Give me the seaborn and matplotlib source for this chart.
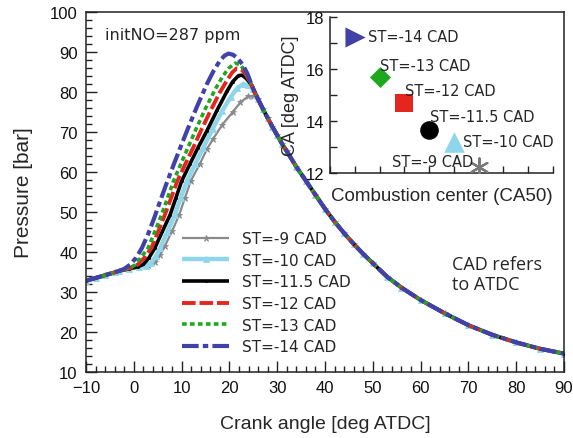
import matplotlib
matplotlib.use("Agg")
import matplotlib.pyplot as plt
import seaborn as sns
import pandas as pd
from matplotlib.ticker import MultipleLocator

# ---------------- data ----------------
series_labels = ["ST=-9 CAD", "ST=-10 CAD", "ST=-11.5 CAD", "ST=-12 CAD", "ST=-13 CAD", "ST=-14 CAD"]

# shared compression start
start_x = [-10, -8, -6, -4, -3]
start_y = [32.8, 33.5, 34.2, 34.9, 35.3]

# shared expansion tail
tail_x = [26, 27, 28, 29, 30, 31, 32, 34, 36, 38, 40, 42, 44, 46, 48, 50, 53, 56, 60, 65, 70, 75, 80, 85, 90]
tail_y = [78.2, 75.8, 73.5, 71.3, 69.2, 67.1, 65.2, 61.3, 57.8, 54.3, 50.8, 47.6, 44.7, 42.0, 39.5, 37.2,
          33.8, 31.1, 28.0, 24.7, 21.7, 19.3, 17.4, 15.8, 14.6]

gray_x = [-1, 1.0, 3.0, 4.5, 5.5, 6.5, 8.0, 9.5, 10.7, 11.9, 13.8, 15.3, 16.6, 18.5, 20.7, 22.3, 23.9, 25.0]
gray_y = [35.8, 36.3, 36.7, 37.5, 39.2, 41.5, 45.2, 49.3, 53.5, 57.7, 62.0, 65.7, 68.3, 71.8, 75.0, 77.4, 78.9, 78.9]

cyan_x = [-1, 1.0, 2.5, 3.6, 4.6, 5.5, 7.0, 8.6, 9.8, 11.1, 12.8, 14.5, 16.5, 18.5, 20.3, 21.6, 22.9, 23.9, 24.9, 25.6]
cyan_y = [35.8, 36.2, 36.6, 37.3, 38.9, 41.0, 45.0, 49.3, 53.5, 57.7, 61.9, 66.0, 70.8, 75.3, 78.8, 80.9, 82.0, 81.7, 80.8, 79.3]

black_x = [-1, 0.8, 2.0, 3.2, 4.4, 6.0, 7.6, 8.8, 10.0, 11.7, 13.4, 15.3, 17.4, 19.5, 20.7, 21.9, 22.7, 23.4, 24.1, 24.7, 25.3]
black_y = [35.8, 36.3, 36.9, 38.6, 41.0, 45.2, 49.3, 53.5, 57.7, 61.9, 66.0, 70.3, 75.4, 80.2, 82.6, 84.1, 84.2, 83.5, 82.6, 81.6, 79.9]

red_x = [-1.5, -0.2, 0.9, 2.3, 3.7, 5.1, 6.5, 7.8, 9.1, 10.7, 12.4, 14.0, 16.0, 18.0, 19.6, 20.6, 21.5, 22.5, 23.3, 24.0, 24.7, 25.3]
red_y = [35.7, 36.2, 36.9, 38.7, 41.0, 45.1, 49.3, 53.5, 57.7, 61.8, 66.0, 70.2, 75.2, 79.9, 83.1, 84.9, 85.9, 85.6, 84.6, 83.2, 81.6, 79.9]

green_x = [-1.5, -0.5, 0.3, 1.6, 3.0, 4.4, 5.8, 7.0, 8.3, 9.8, 11.3, 13.0, 15.0, 17.0, 18.5, 19.8, 21.2, 22.2, 23.2, 24.0, 24.7, 25.3]
green_y = [35.8, 36.2, 36.8, 38.8, 41.0, 45.1, 49.3, 53.3, 57.7, 61.9, 66.0, 70.7, 75.9, 80.6, 83.7, 85.9, 87.2, 86.9, 85.4, 83.5, 81.6, 79.9]

blue_x = [-2, -0.8, 0.5, 1.7, 3.0, 4.3, 5.6, 6.9, 8.3, 9.7, 11.2, 13.2, 15.3, 16.7, 18.0, 19.0, 19.8, 20.8, 21.8, 22.8, 23.8, 24.7, 25.3]
blue_y = [35.8, 36.8, 38.6, 41.0, 44.5, 48.6, 53.0, 57.3, 61.7, 66.0, 70.5, 76.3, 82.0, 85.3, 87.8, 89.1, 89.6, 89.3, 88.3, 86.8, 84.5, 81.6, 79.9]

# inset: combustion center (CA50) vs CA
inset_st = ["ST=-14 CAD", "ST=-13 CAD", "ST=-12 CAD", "ST=-11.5 CAD", "ST=-10 CAD", "ST=-9 CAD"]
inset_ca50 = [1, 2, 3, 4, 5, 6]
inset_ca = [17.23, 15.69, 14.70, 13.67, 13.18, 12.22]

# ---------------- styles / layout ----------------
sns.set_style("ticks")
plt.rcParams["font.family"] = ["Liberation Sans", "DejaVu Sans"]
plt.rcParams["xtick.direction"] = "in"
plt.rcParams["ytick.direction"] = "in"

colors = ["#8a8a8a", "#8fd6ea", "#000000", "#e5261e", "#1fa81f", "#4141a8"]
widths = [1.6, 3.2, 2.6, 2.8, 2.6, 3.0]
markers = ["*", "^", ".", None, None, None]
msizes = [4.5, 4.5, 3.0, 0, 0, 0]
dash_patterns = [None, None, None, [3.5, 1.0], [1.3, 0.9], [4.0, 1.0, 1.3, 1.0]]

fig = plt.figure(figsize=(5.73, 4.39), dpi=100)
ax = fig.add_axes([86 / 573, 1 - 373 / 439, 478 / 573, 360 / 439])

mids = [(gray_x, gray_y), (cyan_x, cyan_y), (black_x, black_y),
        (red_x, red_y), (green_x, green_y), (blue_x, blue_y)]

handles = []
for (mx, my), lab, c, w, m, ms, dp in zip(mids, series_labels, colors, widths, markers, msizes, dash_patterns):
    df = pd.DataFrame({"x": start_x + mx + tail_x, "y": start_y + my + tail_y})
    n_before = len(ax.lines)
    kw = {}
    if m is not None:
        kw = dict(marker=m, markersize=ms, markeredgewidth=0.6, markeredgecolor=c, markerfacecolor=c)
    sns.lineplot(data=df, x="x", y="y", ax=ax, color=c, linewidth=w, sort=False,
                 estimator=None, label=lab, legend=False, **kw)
    line = ax.lines[n_before]
    if dp is not None:
        line.set_dashes(dp)
    line.set_solid_capstyle("butt")
    handles.append(line)

ax.set_xlim(-10, 90)
ax.set_ylim(10, 100)
ax.xaxis.set_major_locator(MultipleLocator(10))
ax.xaxis.set_minor_locator(MultipleLocator(2))
ax.yaxis.set_major_locator(MultipleLocator(10))
ax.yaxis.set_minor_locator(MultipleLocator(2))
ax.tick_params(which="major", length=8, width=1.0, labelsize=12, pad=6, color="#222222", labelcolor="#111111")
ax.tick_params(which="minor", length=4.5, width=1.0, color="#222222")
ax.tick_params(top=False, right=False, which="both")
for sp in ax.spines.values():
    sp.set_visible(True)
    sp.set_linewidth(1.1)
    sp.set_color("#222222")
ax.set_xlabel("Crank angle [deg ATDC]", fontsize=14, labelpad=14)
ax.set_ylabel("Pressure [bar]", fontsize=15, labelpad=12)

ax.text(-6.0, 94.5, "initNO=287 ppm", fontsize=11.5, family="DejaVu Sans", va="center", ha="left")
ax.text(66.6, 34.4, "CAD refers\nto ATDC", fontsize=13, family="Open Sans", va="center", ha="left",
        linespacing=1.15)

leg = ax.legend(handles=handles, labels=series_labels, loc="upper left", bbox_to_anchor=(0.201, 0.392),
                frameon=False, borderpad=0, borderaxespad=0, handlelength=3.1, handletextpad=0.8,
                labelspacing=0.44, prop={"family": "DejaVu Sans", "size": 11}, numpoints=1)

# ---------------- inset ----------------
axi = fig.add_axes([330 / 573, 1 - 174 / 439, 223 / 573, 156 / 439])
axi.patch.set_alpha(0)
inset_colors = ["#4141a8", "#1fa81f", "#e5261e", "#000000", "#8fd6ea", "#7a7a7a"]
inset_markers = [">", "D", "s", "o", "^", (6, 2, 0)]
inset_sizes = [210, 115, 150, 180, 220, 170]
for xv, yv, c, mk, s in zip(inset_ca50, inset_ca, inset_colors, inset_markers, inset_sizes):
    sns.scatterplot(x=[xv], y=[yv], ax=axi, color=c, marker=mk, s=s,
                    edgecolor=c if mk != (6, 2, 0) else None, linewidth=1.6 if mk == (6, 2, 0) else 0,
                    legend=False, zorder=3)

label_pos_x = [1.53, 2.02, 3.03, 4.04, 5.37, 2.50]
label_pos_y = [17.24, 16.12, 15.16, 14.16, 13.23, 12.46]
for lab, lx, ly in zip(inset_st, label_pos_x, label_pos_y):
    axi.text(lx, ly, lab, fontsize=10.5, family="DejaVu Sans", ha="left", va="center", zorder=4)

axi.set_xlim(0, 9)
axi.set_ylim(12, 18)
axi.xaxis.set_major_locator(MultipleLocator(1))
axi.yaxis.set_major_locator(MultipleLocator(2))
axi.yaxis.set_minor_locator(MultipleLocator(1))
axi.set_xticklabels([])
axi.tick_params(which="major", length=5, width=1.0, labelsize=12, pad=4, color="#222222", labelcolor="#111111")
axi.tick_params(which="minor", length=5, width=1.0, color="#222222")
sns.despine(ax=axi)
for sp in ["left", "bottom"]:
    axi.spines[sp].set_linewidth(1.1)
    axi.spines[sp].set_color("#222222")
axi.set_xlabel("Combustion center (CA50)", fontsize=13.5, labelpad=6)
axi.set_ylabel("CA [deg ATDC]", fontsize=13, labelpad=5)

fig.savefig("out.png", dpi=100)
